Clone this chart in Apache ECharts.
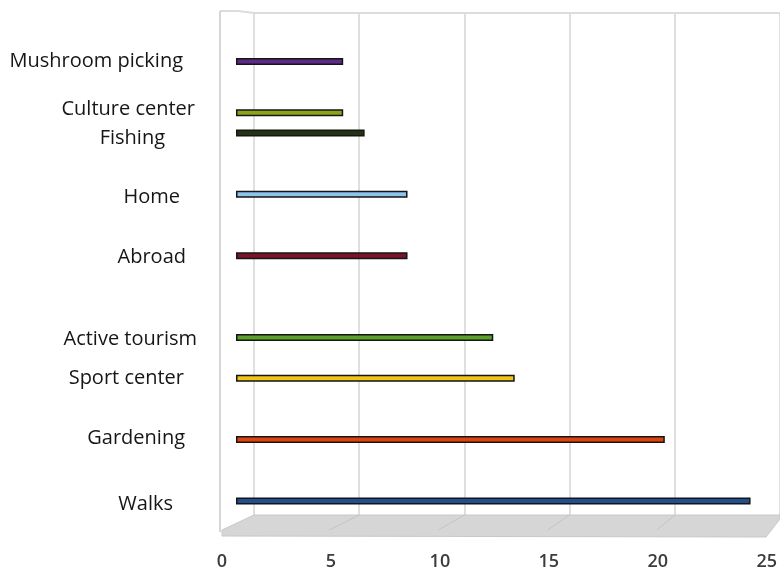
<!DOCTYPE html>
<html>
<head>
<meta charset="utf-8">
<script src="https://cdn.jsdelivr.net/npm/echarts@6/dist/echarts.min.js"></script>
<style>
  html, body { margin: 0; padding: 0; background: #fff; }
  #chart { width: 780px; height: 571px; }
</style>
</head>
<body>
<div id="chart"></div>
<script>
// leisure activities, bottom to top
const categories = ['Walks', 'Gardening', 'Sport center', 'Active tourism', 'Abroad', 'Home', 'Fishing', 'Culture center', 'Mushroom picking']
const values = [24, 20, 13, 12, 8, 8, 6, 5, 5]
const barColors = ['#1f4f8f', '#e0420f', '#f0c419', '#5aa02c', '#7a1428', '#8ec3ea', '#243314', '#8ea31a', '#5e2a86']

// the category axis has empty rows between the bars, like the original
const yRows = [
  'Walks', '', '', '', '', '',
  'Gardening', '', '', '', '', '',
  'Sport center', '', '', '',
  'Active tourism', '', '', '', '', '', '', '',
  'Abroad', '', '', '', '', '',
  'Home', '', '', '', '', '',
  'Fishing', '',
  'Culture center', '', '', '', '',
  'Mushroom picking', '', ''
]

const xMax = 25
const xStep = 5

// small per-label nudges [right padding, vertical shift]
const labelNudge = {
  'Walks': [24, 3],
  'Gardening': [12, -1],
  'Sport center': [13, 0],
  'Active tourism': [0, 2],
  'Abroad': [11, 2],
  'Home': [17, 3],
  'Fishing': [32, 5],
  'Culture center': [2, -3],
  'Mushroom picking': [14, 0]
}

const font = '"Open Sans", "DejaVu Sans", sans-serif'

const rich = {}
yRows.forEach((name, i) => {
  if (!name) return
  const n = labelNudge[name] || [0, 0]
  rich['r' + i] = {
    fontFamily: font,
    fontSize: 20,
    color: '#161616',
    padding: [Math.max(n[1], 0) * 2, n[0], Math.max(-n[1], 0) * 2, 0]
  }
})

const barData = yRows.map(name => {
  const k = categories.indexOf(name)
  if (k < 0) return '-'
  return { value: values[k], itemStyle: { color: barColors[k] } }
})

const chart = echarts.init(document.getElementById('chart'))

// 3D-ish floor and walls (decoration only)
const W = 780
const floorFrontY = 536
const floorBackY = 515
const frontLeft = 222, frontWidth = 546
const backLeft = 254, backWidth = 526
const floorLines = []
for (let v = xStep; v < xMax; v += xStep) {
  const bx = backLeft + backWidth * v / xMax
  const fx = frontLeft + frontWidth * v / xMax
  floorLines.push({
    type: 'line',
    shape: { x1: bx, y1: floorBackY, x2: fx - 2, y2: floorFrontY - 6 },
    style: { stroke: '#c4c4c4', lineWidth: 1 },
    z: 2
  })
}

const option = {
  animation: false,
  backgroundColor: '#fff',
  grid: [
    // front axis (tick labels)
    { left: frontLeft, width: frontWidth, top: 12, bottom: 571 - floorFrontY },
    // back wall gridlines
    { left: backLeft, width: backWidth, top: 13, bottom: 571 - floorBackY },
    // bars
    { left: 236, width: 536, top: 36, bottom: 65 }
  ],
  xAxis: [
    {
      gridIndex: 0, type: 'value', min: 0, max: xMax, interval: xStep,
      axisLine: { show: false }, axisTick: { show: false }, splitLine: { show: false },
      axisLabel: { margin: 17, fontFamily: font, fontSize: 18, fontWeight: 600, color: '#3c3c3c' }
    },
    {
      gridIndex: 1, type: 'value', min: 0, max: xMax, interval: xStep,
      axisLine: { show: false }, axisTick: { show: false }, axisLabel: { show: false },
      splitLine: { show: true, lineStyle: { color: '#d4d4d4', width: 1.5 } }
    },
    {
      gridIndex: 2, type: 'value', min: 0, max: xMax, show: false
    }
  ],
  yAxis: [
    { gridIndex: 0, type: 'value', show: false },
    { gridIndex: 1, type: 'value', show: false },
    {
      gridIndex: 2, type: 'category', data: yRows,
      axisLine: { show: false }, axisTick: { show: false }, splitLine: { show: false },
      axisLabel: {
        interval: 0,
        margin: 39,
        formatter: (v, i) => v ? '{r' + i + '|' + v + '}' : '',
        rich: rich
      }
    }
  ],
  graphic: [
    // top edge of the walls
    { type: 'polyline', shape: { points: [[220, 11], [238, 11], [backLeft, 13], [W, 13]] }, style: { stroke: '#dcdcdc', lineWidth: 2, fill: null }, z: 1 },
    // left wall edge
    { type: 'line', shape: { x1: 220, y1: 11, x2: 220, y2: floorFrontY - 4 }, style: { stroke: '#d6d6d6', lineWidth: 2 }, z: 1 },
    // floor
    {
      type: 'polygon',
      shape: { points: [[frontLeft, floorFrontY], [frontLeft, floorFrontY - 6], [backLeft, floorBackY], [W, floorBackY], [W, floorBackY + 4], [frontLeft + frontWidth - 2, floorFrontY + 1]] },
      style: { fill: '#d6d6d6', stroke: '#c8c8c8', lineWidth: 1 },
      z: 1
    }
  ].concat(floorLines),
  series: [
    {
      type: 'bar',
      xAxisIndex: 2,
      yAxisIndex: 2,
      barWidth: 7,
      itemStyle: { borderColor: '#151515', borderWidth: 1.5 },
      data: barData,
      z: 5
    }
  ]
}

chart.setOption(option)
</script>
</body>
</html>
